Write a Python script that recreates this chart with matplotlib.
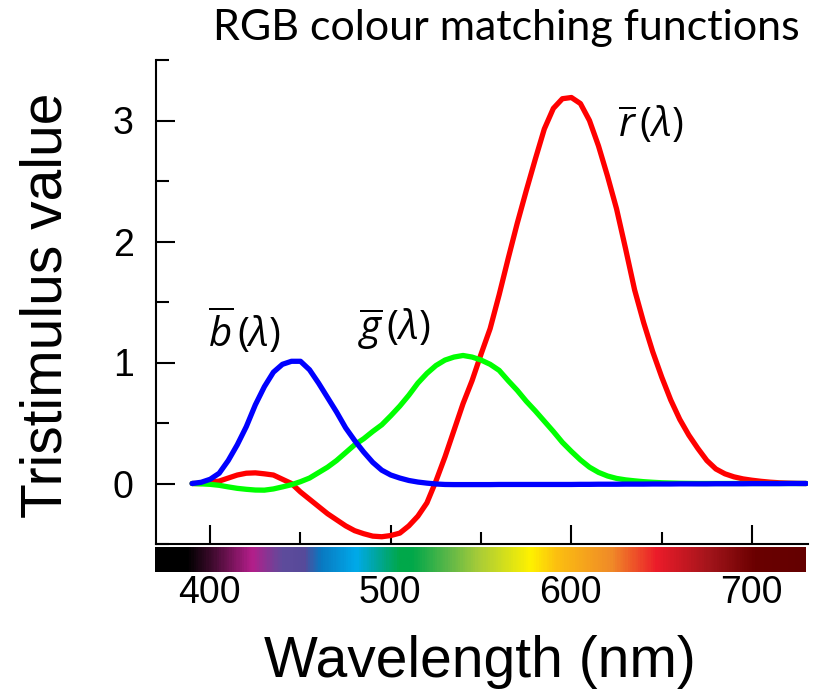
import matplotlib.pyplot as plt
import numpy as np
from matplotlib.colors import LinearSegmentedColormap
from matplotlib.ticker import MultipleLocator

# wavelength grid (nm) shared by the three curves
wavelength = list(range(390, 735, 5))

r_bar = [0.00, 0.00, 0.01, 0.02, 0.045, 0.07, 0.085, 0.088, 0.08, 0.07,
         0.035, 0.00, -0.07, -0.13, -0.19, -0.25, -0.30, -0.35, -0.39, -0.415,
         -0.435, -0.44, -0.43, -0.41, -0.35, -0.27, -0.16, 0.02, 0.22, 0.44,
         0.66, 0.85, 1.07, 1.28, 1.56, 1.86, 2.15, 2.42, 2.68, 2.93,
         3.10, 3.18, 3.19, 3.14, 3.00, 2.79, 2.54, 2.27, 1.94, 1.60,
         1.33, 1.09, 0.88, 0.69, 0.53, 0.40, 0.29, 0.19, 0.12, 0.08,
         0.055, 0.038, 0.027, 0.018, 0.011, 0.006, 0.003, 0.001, 0.00]

g_bar = [0.00, -0.003, -0.007, -0.015, -0.028, -0.04, -0.048, -0.054, -0.055, -0.045,
         -0.028, -0.01, 0.015, 0.045, 0.09, 0.135, 0.19, 0.255, 0.32, 0.37,
         0.43, 0.485, 0.56, 0.64, 0.73, 0.83, 0.91, 0.975, 1.02, 1.045,
         1.058, 1.045, 1.02, 0.985, 0.935, 0.85, 0.77, 0.68, 0.60, 0.515,
         0.43, 0.34, 0.265, 0.195, 0.135, 0.092, 0.062, 0.042, 0.03, 0.022,
         0.015, 0.01, 0.006, 0.004, 0.002, 0.001, 0.0, 0.0, 0.0, 0.0,
         0.0, 0.0, 0.0, 0.0, 0.0, 0.0, 0.0, 0.0, 0.0]

b_bar = [0.00, 0.01, 0.035, 0.085, 0.19, 0.32, 0.47, 0.65, 0.80, 0.92,
         0.985, 1.01, 1.01, 0.94, 0.83, 0.71, 0.59, 0.46, 0.355, 0.26,
         0.175, 0.11, 0.07, 0.045, 0.025, 0.012, 0.003, -0.004, -0.008, -0.009,
         -0.009, -0.009, -0.009, -0.009, -0.008, -0.008, -0.008, -0.008, -0.008, -0.008,
         -0.008, -0.008, -0.008, -0.007, -0.007, -0.006, -0.006, -0.006, -0.005, -0.005,
         -0.005, -0.004, -0.004, -0.004, -0.003, -0.003, -0.003, -0.003, -0.002, -0.002,
         -0.002, -0.002, -0.001, -0.001, -0.001, -0.001, 0.0, 0.0, 0.0]

# spectrum strip under the axis
spectrum_nm = [370, 387, 400, 423, 440, 452, 461, 481, 492, 505,
               512, 533, 549, 578, 592, 623, 648, 678, 703, 730]
spectrum_col = ['#000000', '#000000', '#3a0a2a', '#b41e8a', '#5e4c9c', '#574a9a',
                '#0a78c0', '#00aaea', '#00a6a0', '#00a84a', '#00a84a', '#60b848',
                '#a8cc38', '#fff200', '#fcc010', '#f08a28', '#ec1c2a', '#a0141a',
                '#6a0000', '#640000']

x_ticks = [400, 500, 600, 700]
y_ticks = [0, 1, 2, 3]

plt.rcParams['font.family'] = ['Liberation Sans', 'DejaVu Sans']
plt.rcParams['mathtext.fontset'] = 'custom'
plt.rcParams['mathtext.rm'] = 'Open Sans'
plt.rcParams['mathtext.it'] = 'Open Sans:italic'

W, H = 820, 699
fig = plt.figure(figsize=(W / 100, H / 100), dpi=100)
ax = fig.add_axes([156 / W, 1 - 544 / H, (808 - 156) / W, (544 - 60) / H])

lw = 3.8
ax.plot(wavelength, r_bar, color='#ff0000', lw=lw, solid_capstyle='round')
ax.plot(wavelength, g_bar, color='#00ff00', lw=lw, solid_capstyle='round')
ax.plot(wavelength, b_bar, color='#0000ff', lw=lw, solid_capstyle='round')

ax.set_xlim(370, 731)
ax.set_ylim(-0.5, 3.5)
ax.spines['top'].set_visible(False)
ax.spines['right'].set_visible(False)
for s in ['left', 'bottom']:
    ax.spines[s].set_linewidth(1.5)

ax.set_yticks(y_ticks)
ax.yaxis.set_minor_locator(MultipleLocator(0.5))
ax.set_xticks(x_ticks)
ax.xaxis.set_minor_locator(MultipleLocator(50))
ax.tick_params(which='both', direction='in', width=1.5)
ax.tick_params(which='major', length=14)
ax.tick_params(which='minor', length=9)
ax.tick_params(axis='y', labelsize=27, pad=16)
ax.tick_params(axis='x', labelbottom=False)

ax.text(419, 1.27, r'$\overline{b}\,(\lambda)$', fontsize=29, ha='center', va='center')
ax.text(502, 1.27, r'$\overline{g}\,(\lambda)$', fontsize=29, ha='center', va='center')
ax.text(644, 2.97, r'$\overline{r}\,(\lambda)$', fontsize=29, ha='center', va='center')

# colour strip
cax = fig.add_axes([155 / W, 1 - 572 / H, (806 - 155) / W, 25 / H])
lo, hi = spectrum_nm[0], spectrum_nm[-1]
cmap = LinearSegmentedColormap.from_list(
    'spec', [((n - lo) / (hi - lo), c) for n, c in zip(spectrum_nm, spectrum_col)])
cax.imshow(np.linspace(0, 1, 600)[None, :], cmap=cmap, aspect='auto',
           extent=[lo, hi, 0, 1])
cax.set_xlim(lo, hi)
cax.set_yticks([])
cax.set_xticks(x_ticks)
cax.tick_params(axis='x', length=0, labelsize=27, pad=2)
for s in cax.spines.values():
    s.set_visible(False)

fig.text(506 / W, 1 - 28 / H, 'RGB colour matching functions', fontsize=31,
         family='Lato', ha='center', va='center')
fig.text(47 / W, 1 - 305 / H, 'Tristimulus value', fontsize=41,
         rotation=90, ha='center', va='center')
fig.text(480 / W, 1 - 662 / H, 'Wavelength (nm)', fontsize=41,
         ha='center', va='center')

fig.savefig('out.png', dpi=100)
